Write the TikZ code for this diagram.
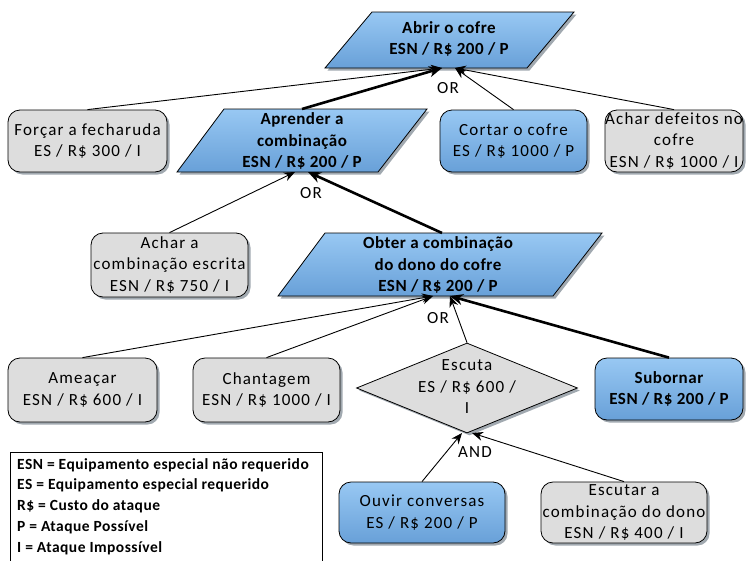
\documentclass[tikz,border=0pt]{standalone}
\usepackage{fontspec}
\setmainfont{Carlito}[LetterSpace=7,BoldFeatures={LetterSpace=3}]
\usetikzlibrary{shapes.geometric,shadows,arrows.meta}
\definecolor{bluetop}{RGB}{152,200,243}
\definecolor{bluebot}{RGB}{104,160,216}
\definecolor{grayfill}{RGB}{221,221,221}
\definecolor{shadowc}{RGB}{130,140,150}
\tikzset{
 shad/.style={drop shadow={shadow xshift=2.5pt,shadow yshift=-2.5pt,fill=shadowc,opacity=0.75}},
 bluefill/.style={top color=bluetop,bottom color=bluebot},
 rbox/.style={draw=black,line width=0.8pt,rounded corners=12pt,shad,align=center,inner sep=0pt,font=\fontsize{17}{21.5}\selectfont},
 graybox/.style={rbox,fill=grayfill},
 bluebox/.style={rbox,bluefill},
 para/.style={draw=black,line width=0.8pt,shad,bluefill},
 ptext/.style={align=center,font=\bfseries\fontsize{17}{21.5}\selectfont,inner sep=0pt},
 conn/.style={line width=0.9pt,-{Stealth[length=11pt,width=9pt]}},
 connb/.style={line width=2.6pt,-{Stealth[length=13pt,width=11pt]}},
 lbl/.style={font=\fontsize{17}{20}\selectfont,inner sep=0pt}
}
\begin{document}
\begin{tikzpicture}[x=1pt,y=-1pt]
\useasboundingbox (0,0) rectangle (747,560);
% --- parallelograms
\path[para] (325,68) -- (372,12) -- (574,12) -- (527,68) -- cycle;
\node[ptext] (abrir) at (449,39) {Abrir o cofre\\ESN / R\$ 200 / P};
\coordinate (abrirL) at (442,68);
\coordinate (abrirR) at (455,68);

\path[para] (177,172) -- (224,109) -- (427,109) -- (378,172) -- cycle;
\node[ptext] (aprender) at (302,141) {Aprender a\\combinação\\ESN / R\$ 200 / P};
\coordinate (aprT) at (302,109);
\coordinate (aprL) at (295,172);
\coordinate (aprR) at (308,172);

\path[para] (278,296) -- (325,233) -- (602,233) -- (553,296) -- cycle;
\node[ptext] (obter) at (438,265) {Obter a combinação\\do dono do cofre\\ESN / R\$ 200 / P};
\coordinate (obtT) at (442,233);
\coordinate (obtL) at (433,296);
\coordinate (obtR) at (450,296);

% --- boxes
\node[graybox,minimum width=159pt,minimum height=62pt] (forcar) at (87.5,141) {Forçar a fecharuda\\ES / R\$ 300 / I};
\node[bluebox,minimum width=147pt,minimum height=62pt] (cortar) at (513.5,141) {Cortar o cofre\\ES / R\$ 1000 / P};
\node[graybox,minimum width=138pt,minimum height=62pt] (defeitos) at (674,141) {Achar defeitos no\\cofre\\ESN / R\$ 1000 / I};
\node[graybox,minimum width=157pt,minimum height=64pt] (escrita) at (169.5,265) {Achar a\\combinação escrita\\ESN / R\$ 750 / I};
\node[graybox,minimum width=149pt,minimum height=64pt] (ameaca) at (82.5,390) {Ameaçar\\ESN / R\$ 600 / I};
\node[graybox,minimum width=147pt,minimum height=64pt] (chantagem) at (266.5,390) {Chantagem\\ESN / R\$ 1000 / I};
\node[bluebox,minimum width=148pt,minimum height=62pt,font=\bfseries\fontsize{17}{21.5}\selectfont] (subornar) at (669,389) {Subornar\\ESN / R\$ 200 / P};
\node[diamond,draw=black,line width=0.8pt,fill=grayfill,shad,minimum width=221pt,minimum height=90pt,inner sep=0pt] (escuta) at (467,388) {};
\node[align=center,inner sep=0pt,font=\fontsize{17}{21.5}\selectfont] (escutatxt) at (467,387) {Escuta\\ES / R\$ 600 /\\I};
\coordinate (escL) at (462,433);
\coordinate (escR) at (472,433);
\node[bluebox,minimum width=166pt,minimum height=61pt] (ouvir) at (422,512.5) {Ouvir conversas\\ES / R\$ 200 / P};
\node[graybox,minimum width=166pt,minimum height=61pt] (escutar) at (624,512.5) {Escutar a\\combinação do dono\\ESN / R\$ 400 / I};

% --- legend
\node[draw=black,line width=0.8pt,fill=white,minimum width=312pt,minimum height=115pt,anchor=north west,inner sep=0pt] (legend) at (10,452) {};
\node[anchor=north west,align=left,inner sep=0pt,font=\bfseries\fontsize{15.5}{20.8}\selectfont] (legtxt) at (17,458) {ESN = Equipamento especial não requerido\\ES = Equipamento especial requerido\\R\$ = Custo do ataque\\P = Ataque Possível\\I = Ataque Impossível};

% --- connectors
\draw[conn] (forcar.north) -- (abrirL);
\draw[connb] (aprT) -- (abrirL);
\draw[conn] (cortar.north) -- (abrirR);
\draw[conn] (defeitos.north) -- (abrirR);
\node[lbl] (or1) at (448,88) {OR};

\draw[conn] (escrita.north) -- (aprL);
\draw[connb] (obtT) -- (aprR);
\node[lbl] (or2) at (311,193) {OR};

\draw[conn] (ameaca.north) -- (obtL);
\draw[conn] (chantagem.north) -- (obtL);
\draw[conn] (escuta.north) -- (obtR);
\draw[connb] (subornar.north) -- (obtR);
\node[lbl] (or3) at (438,318) {OR};

\draw[conn] (ouvir.north) -- (escL);
\draw[conn] (escutar.north) -- (escR);
\node[lbl] (and1) at (475,452) {AND};
\end{tikzpicture}
\end{document}
